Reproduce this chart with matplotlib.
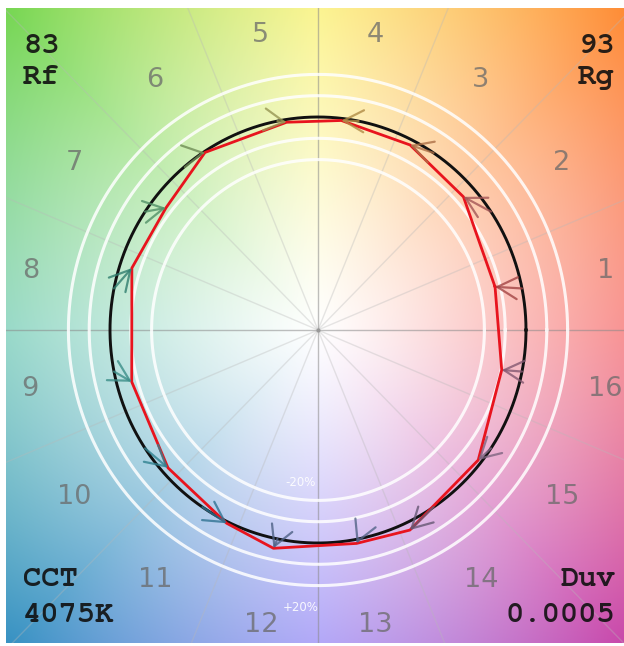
import numpy as np
import matplotlib
matplotlib.use("Agg")
import matplotlib.pyplot as plt
import matplotlib.colors as mcolors
from matplotlib import font_manager

# ---------------- data ----------------
bins = list(range(1, 17))
bin_center_deg = [(i - 0.5) * 22.5 for i in bins]
# test (normalised) chroma radius and hue angle per hue bin, reference is radius 1
test_r = [0.875, 0.938, 0.975, 0.990, 0.987, 0.995, 0.929, 0.941,
          0.928, 0.969, 1.008, 1.047, 1.019, 1.038, 0.983, 0.903]
test_deg = [13.4, 41.8, 63.0, 83.5, 98.8, 123.1, 141.9, 162.0,
            195.2, 221.9, 244.2, 258.2, 280.5, 295.2, 321.6, 348.0]
bin_colors = ['#e62828', '#e74b4b', '#fb812e', '#ffb529', '#cbca46', '#7eb94c',
              '#41c06d', '#009c7c', '#16bcb0', '#00a4bf', '#0085c3', '#3b62aa',
              '#4568ae', '#6a4e85', '#9d69a1', '#a74f81']
Rf, Rg, CCT, Duv = "83", "93", "4075K", "0.0005"
ring_levels = [0.8, 0.9, 1.1, 1.2]

# pick a serif monospace font if one exists
installed = {f.name for f in font_manager.fontManager.ttflist}
mono_family = "Liberation Mono"
for cand in ["Courier New", "Nimbus Mono PS", "FreeMono", "Courier", "Nimbus Mono L"]:
    if cand in installed:
        mono_family = cand
        break

# ---------------- figure ----------------
W, H = 624, 646
fig = plt.figure(figsize=(W / 100, H / 100), dpi=100, facecolor="white")
cx, cy, sx, sy = 318.0, 330.0, 208.0, 213.0
left_px, right_px, top_px, bot_px = 6, 624, 8, 643
ax = fig.add_axes([left_px / W, (H - bot_px) / H, (right_px - left_px) / W, (bot_px - top_px) / H])
xl = ((left_px - cx) / sx, (right_px - cx) / sx)
yl = (-(bot_px - cy) / sy, (cy - top_px) / sy)
ax.set_xlim(*xl)
ax.set_ylim(*yl)
ax.set_aspect("auto")
ax.axis("off")

# background hue field
anchor_deg = np.array([0, 45, 90, 135, 180, 225, 270, 315, 360])
anchor_rgb = np.array([(245, 95, 95), (255, 140, 55), (250, 240, 95), (120, 215, 85),
                       (105, 200, 175), (55, 145, 195), (140, 125, 245), (200, 70, 170),
                       (245, 95, 95)]) / 255.0
nx, ny = 500, 500
gx = np.linspace(xl[0], xl[1], nx)
gy = np.linspace(yl[1], yl[0], ny)
X, Y = np.meshgrid(gx, gy)
TH = np.degrees(np.arctan2(Y, X)) % 360
R = np.hypot(X, Y)
f = np.clip((R / 2.1) ** 1.15, 0, 1)
img = np.zeros((ny, nx, 3))
for c in range(3):
    col = np.interp(TH, anchor_deg, anchor_rgb[:, c])
    img[..., c] = 1 - f * (1 - col)
ax.imshow(img, extent=[xl[0], xl[1], yl[0], yl[1]], aspect="auto", zorder=0, interpolation="bilinear")

# spokes
for k in range(16):
    a = np.radians(k * 22.5)
    major = (k % 4 == 0)
    ax.plot([0, 3 * np.cos(a)], [0, 3 * np.sin(a)],
            color="#8a8a8a" if major else "#b8b8b8",
            alpha=0.55 if major else 0.35, lw=1.0, zorder=1)
ax.plot([0], [0], marker="o", ms=2, color="#999999", zorder=2)

t = np.linspace(0, 2 * np.pi, 400)
# white rings
for lv in ring_levels:
    ax.plot(lv * np.cos(t), lv * np.sin(t), color="white", lw=2.2, alpha=0.85, zorder=2)

# reference circle
ax.plot(np.cos(t), np.sin(t), color="#111111", lw=2.1, zorder=3)

# test polygon
tr = np.array(test_r)
ta = np.radians(test_deg)
tx, ty = tr * np.cos(ta), tr * np.sin(ta)
ax.plot(np.append(tx, tx[0]), np.append(ty, ty[0]), color="#e8141e", lw=2.0, zorder=4)

# arrows ref -> test
for i in range(16):
    a0 = np.radians(bin_center_deg[i])
    base = np.array(mcolors.to_rgb(bin_colors[i]))
    col = 0.5 * base + 0.5 * np.array([0.38, 0.38, 0.38])
    ax.annotate("", xy=(tx[i], ty[i]), xytext=(np.cos(a0), np.sin(a0)),
                arrowprops=dict(arrowstyle="->,head_length=0.6,head_width=0.33",
                                color=col, lw=1.6, alpha=0.8, mutation_scale=24,
                                shrinkA=0, shrinkB=0), zorder=5)

# hue bin labels
for i, b in enumerate(bins):
    a = np.radians(bin_center_deg[i])
    ax.text(1.41 * np.cos(a), 1.41 * np.sin(a), str(b), ha="center", va="center",
            fontsize=19.5, color="#6a6a6a", alpha=0.75, family="DejaVu Sans", zorder=6)

# +-20% labels
ax.text(-0.085, -0.715, "-20%", ha="center", va="center", fontsize=8.5, color="white",
        alpha=0.9, zorder=6)
ax.text(-0.085, -1.305, "+20%", ha="center", va="center", fontsize=8.5, color="white",
        alpha=0.9, zorder=6)

# corner texts
mono = dict(family=mono_family, fontweight="bold", fontsize=22, color="#101010", alpha=0.9)
def ftext(xpx, ypx, s, ha):
    fig.text(xpx / W, 1 - ypx / H, s, ha=ha, va="baseline", **mono)

ftext(23, 53, Rf, "left")
ftext(23, 84, "Rf", "left")
ftext(615, 53, Rg, "right")
ftext(615, 84, "Rg", "right")
ftext(23, 586, "CCT", "left")
ftext(23, 622, CCT, "left")
ftext(615, 586, "Duv", "right")
ftext(615, 622, Duv, "right")

fig.savefig("out.png", dpi=100, facecolor="white")
